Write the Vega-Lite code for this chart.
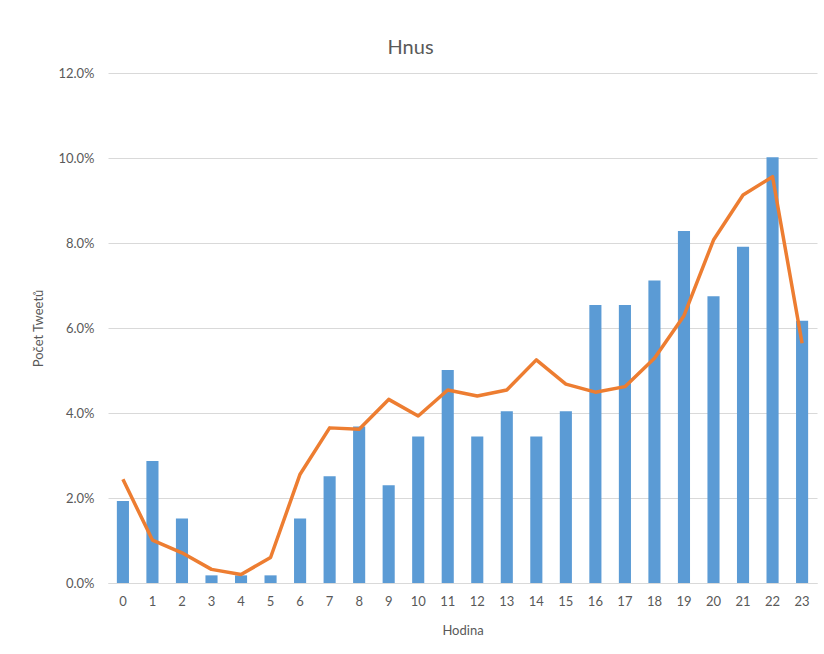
{
  "$schema": "https://vega.github.io/schema/vega-lite/v6.json",
  "autosize": {"type": "none"},
  "padding": {"left": 108, "top": 73, "right": 7, "bottom": 71},
  "width": 709,
  "height": 510,
  "background": "white",
  "config": {
    "font": "Lato",
    "view": {"stroke": null},
    "axis": {"labelColor": "#595959", "titleColor": "#595959", "labelFontSize": 13, "titleFontSize": 13, "titleFontWeight": "normal"}
  },
  "title": {"text": "Hnus", "fontSize": 20, "fontWeight": "normal", "color": "#595959", "dx": -52, "offset": 9, "font": "Lato"},
  "data": {"values": [
    {"hour": "0", "bar": 1.93, "line": 2.44},
    {"hour": "1", "bar": 2.87, "line": 1.01},
    {"hour": "2", "bar": 1.52, "line": 0.71},
    {"hour": "3", "bar": 0.18, "line": 0.32},
    {"hour": "4", "bar": 0.18, "line": 0.20},
    {"hour": "5", "bar": 0.18, "line": 0.60},
    {"hour": "6", "bar": 1.52, "line": 2.56},
    {"hour": "7", "bar": 2.51, "line": 3.65},
    {"hour": "8", "bar": 3.68, "line": 3.62},
    {"hour": "9", "bar": 2.30, "line": 4.32},
    {"hour": "10", "bar": 3.45, "line": 3.93},
    {"hour": "11", "bar": 5.01, "line": 4.54},
    {"hour": "12", "bar": 3.45, "line": 4.40},
    {"hour": "13", "bar": 4.04, "line": 4.54},
    {"hour": "14", "bar": 3.45, "line": 5.25},
    {"hour": "15", "bar": 4.04, "line": 4.68},
    {"hour": "16", "bar": 6.54, "line": 4.49},
    {"hour": "17", "bar": 6.54, "line": 4.62},
    {"hour": "18", "bar": 7.12, "line": 5.29},
    {"hour": "19", "bar": 8.28, "line": 6.29},
    {"hour": "20", "bar": 6.75, "line": 8.07},
    {"hour": "21", "bar": 7.91, "line": 9.13},
    {"hour": "22", "bar": 10.02, "line": 9.56},
    {"hour": "23", "bar": 6.17, "line": 5.64}
  ]},
  "encoding": {
    "x": {
      "field": "hour", "type": "ordinal", "sort": null,
      "scale": {"paddingInner": 0.59, "paddingOuter": 0.3},
      "axis": {"title": "Hodina", "labelAngle": 0, "ticks": false, "domainColor": "#d9d9d9", "domainWidth": 1, "labelPadding": 12, "titlePadding": 16, "grid": false}
    }
  },
  "layer": [
    {
      "mark": {"type": "bar", "color": "#5B9BD5"},
      "encoding": {
        "y": {
          "field": "bar", "type": "quantitative",
          "scale": {"domain": [0, 12], "nice": false},
          "axis": {"title": "Počet Tweetů", "values": [0, 2, 4, 6, 8, 10, 12], "labelExpr": "format(datum.value, '.1f') + '%'", "domain": false, "ticks": false, "gridColor": "#d9d9d9", "labelPadding": 14, "titlePadding": 12}
        }
      }
    },
    {
      "mark": {"type": "line", "color": "#ED7D31", "strokeWidth": 3.5, "strokeJoin": "round"},
      "encoding": {
        "y": {"field": "line", "type": "quantitative"}
      }
    }
  ]
}
